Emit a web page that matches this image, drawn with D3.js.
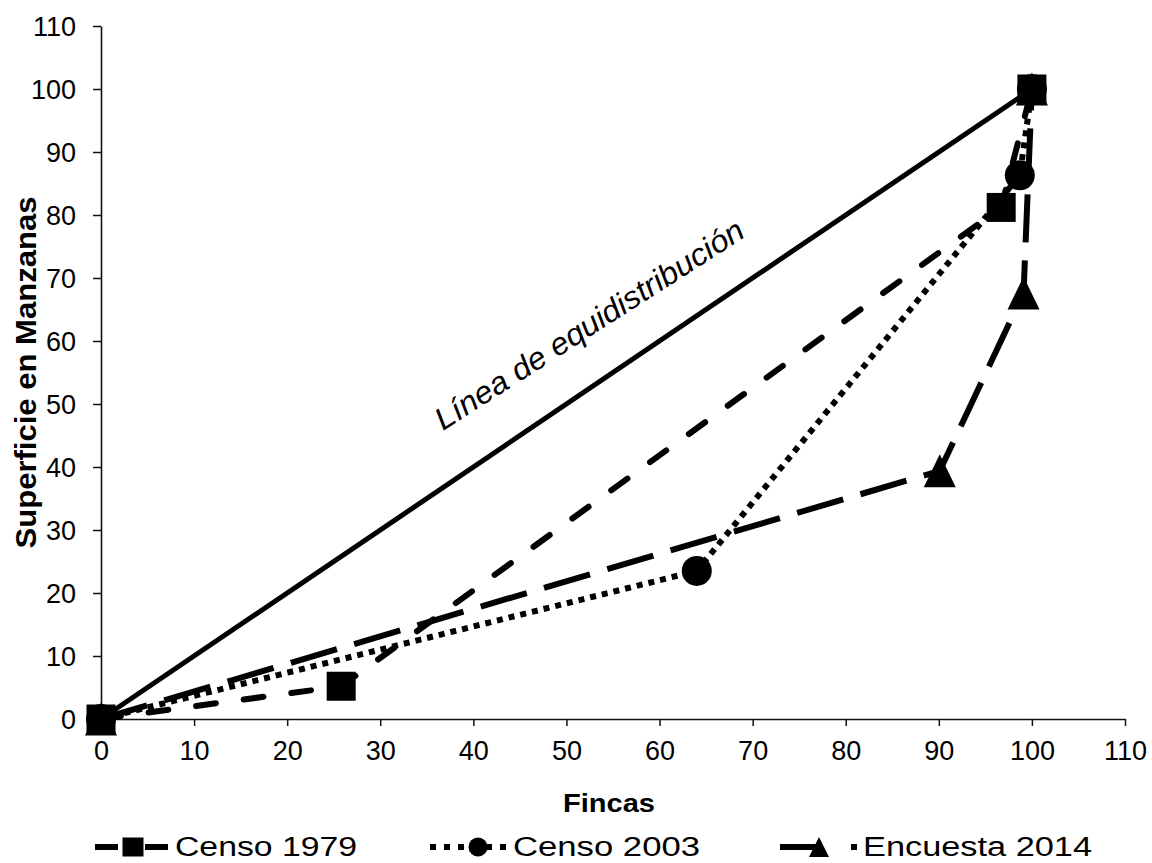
<!DOCTYPE html>
<html>
<head>
<meta charset="utf-8">
<script src="https://cdn.jsdelivr.net/npm/d3@7"></script>
<style>
  html, body { margin: 0; padding: 0; background: #fff; }
  svg { display: block; }
  text { font-family: "Liberation Sans", Arial, sans-serif; fill: #000; }
</style>
</head>
<body>
<svg id="chart" width="1152" height="863"></svg>
<script>
// ---- Data ----
const xTicks = [0, 10, 20, 30, 40, 50, 60, 70, 80, 90, 100, 110];
const yTicks = [0, 10, 20, 30, 40, 50, 60, 70, 80, 90, 100, 110];

const equiX = [0, 100];
const equiY = [0, 100];

const censo1979X = [0, 25.8, 96.7, 100];
const censo1979Y = [0, 5.2, 81.2, 100];

const censo2003X = [0, 64.0, 98.7, 100];
const censo2003Y = [0, 23.5, 86.3, 100];

const encuesta2014X = [0, 90.1, 99.1, 100];
const encuesta2014Y = [0, 39.4, 67.6, 100];

const seriesNames = ["Censo 1979", "Censo 2003", "Encuesta 2014"];
const xTitle = "Fincas";
const yTitle = "Superficie en Manzanas";
const equiLabel = "Línea de equidistribución";

// ---- Layout ----
const svg = d3.select("#chart");
const x = d3.scaleLinear().domain([0, 110]).range([101, 1125]);
const y = d3.scaleLinear().domain([0, 110]).range([719, 26]);

const zip = (xs, ys) => xs.map((v, i) => [v, ys[i]]);
const line = d3.line().x(d => x(d[0])).y(d => y(d[1]));

// ---- Axes ----
const xAxis = svg.append("g")
  .attr("transform", `translate(0,${y(0)})`)
  .call(d3.axisBottom(x).tickValues(xTicks).tickSize(7).tickPadding(15).tickSizeOuter(0));
const yAxis = svg.append("g")
  .attr("transform", `translate(${x(0)},0)`)
  .call(d3.axisLeft(y).tickValues(yTicks).tickSize(8).tickPadding(17).tickSizeOuter(0));

[xAxis, yAxis].forEach(g => {
  g.select(".domain").attr("stroke", "#111").attr("stroke-width", 1.6);
  g.selectAll(".tick line").attr("stroke", "#111").attr("stroke-width", 1.5);
  g.selectAll(".tick text")
    .style("font-family", "'Liberation Sans', Arial, sans-serif")
    .style("font-size", "27px")
    .attr("fill", "#000");
});
xAxis.selectAll(".tick text").attr("dy", "0.71em");
yAxis.selectAll(".tick text").attr("dy", "0.36em");

// ---- Axis titles ----
svg.append("text")
  .attr("x", 563).attr("y", 812)
  .attr("textLength", 92).attr("lengthAdjust", "spacingAndGlyphs")
  .style("font-size", "26px").style("font-weight", "bold")
  .text(xTitle);

svg.append("text")
  .attr("transform", `translate(36,${(y(0) + y(110)) / 2}) rotate(-90)`)
  .attr("text-anchor", "middle")
  .attr("textLength", 352).attr("lengthAdjust", "spacingAndGlyphs")
  .style("font-size", "30px").style("font-weight", "bold")
  .text(yTitle);

// ---- Lines ----
const g = svg.append("g");

g.append("path")
  .datum(zip(equiX, equiY))
  .attr("d", line)
  .attr("fill", "none").attr("stroke", "#000").attr("stroke-width", 5);

const styles = [
  { xs: censo1979X, ys: censo1979Y, dash: "20 28", cap: "round", width: 6 },
  { xs: censo2003X, ys: censo2003Y, dash: "6 6", cap: "butt", width: 6 },
  { xs: encuesta2014X, ys: encuesta2014Y, dash: "48 18", cap: "butt", width: 6 }
];

styles.forEach(s => {
  g.append("path")
    .datum(zip(s.xs, s.ys))
    .attr("d", line)
    .attr("fill", "none").attr("stroke", "#000")
    .attr("stroke-width", s.width)
    .attr("stroke-dasharray", s.dash)
    .attr("stroke-linecap", s.cap);
});

// ---- Markers ----
function square(sel, cx, cy, w, h) {
  sel.append("rect").attr("x", cx - w / 2).attr("y", cy - h / 2)
    .attr("width", w).attr("height", h).attr("fill", "#000");
}
function circle(sel, cx, cy, r) {
  sel.append("circle").attr("cx", cx).attr("cy", cy).attr("r", r).attr("fill", "#000");
}
function triangle(sel, cx, cy, w, h) {
  sel.append("path")
    .attr("d", `M${cx},${cy - h / 2}L${cx + w / 2},${cy + h / 2}L${cx - w / 2},${cy + h / 2}Z`)
    .attr("fill", "#000");
}

zip(censo1979X, censo1979Y).forEach(d => square(g, x(d[0]), y(d[1]), 29, 29));
zip(censo2003X, censo2003Y).forEach(d => circle(g, x(d[0]), y(d[1]), 15));
zip(encuesta2014X, encuesta2014Y).forEach(d => triangle(g, x(d[0]), y(d[1]), 32, 33));

// ---- Equidistribution label ----
svg.append("text")
  .attr("transform", "translate(443,431) rotate(-32.7)")
  .attr("textLength", 361).attr("lengthAdjust", "spacingAndGlyphs")
  .style("font-size", "31px").style("font-style", "italic")
  .text(equiLabel);

// ---- Legend ----
const legY = 847;
const legend = svg.append("g");
const legItems = [
  { x0: 95, x1: 168, mx: 133, tx: 175, tw: 182, dash: "23 27 23", cap: "butt", mark: "square" },
  { x0: 430, x1: 512, mx: 478, tx: 513, tw: 187, dash: "6 8", cap: "butt", mark: "circle" },
  { x0: 780, x1: 857, mx: 819, tx: 863, tw: 229, dash: "36 35 6", cap: "butt", mark: "triangle" }
];
legItems.forEach((it, i) => {
  legend.append("line")
    .attr("x1", it.x0).attr("x2", it.x1).attr("y1", legY).attr("y2", legY)
    .attr("stroke", "#000").attr("stroke-width", 6)
    .attr("stroke-dasharray", it.dash).attr("stroke-linecap", it.cap);
  if (it.mark === "square") square(legend, it.mx, legY, 21, 19);
  if (it.mark === "circle") circle(legend, it.mx, legY, 9.5);
  if (it.mark === "triangle") triangle(legend, it.mx, legY, 20, 20);
  legend.append("text")
    .attr("x", it.tx).attr("y", legY + 9)
    .attr("textLength", it.tw).attr("lengthAdjust", "spacingAndGlyphs")
    .style("font-size", "27px")
    .text(seriesNames[i]);
});
</script>
</body>
</html>
